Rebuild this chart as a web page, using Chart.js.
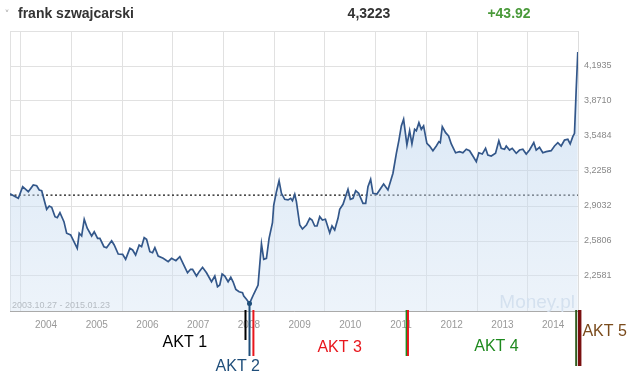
<!DOCTYPE html>
<html>
<head>
<meta charset="utf-8">
<script src="https://cdn.jsdelivr.net/npm/chart.js@4.4.1/dist/chart.umd.min.js"></script>
<style>
  html, body { margin: 0; padding: 0; background: #fff; }
  canvas { display: block; }
</style>
</head>
<body>
<canvas id="myChart" width="630" height="374"></canvas>
<script>
const title = "frank szwajcarski";
const lastPrice = "4,3223";
const changePct = "+43.92";
const dateRange = "2003.10.27 - 2015.01.23";

const years = [2004, 2005, 2006, 2007, 2008, 2009, 2010, 2011, 2012, 2013, 2014];
const yTicks = [1.9355, 2.2581, 2.5806, 2.9032, 3.2258, 3.5484, 3.8710, 4.1935, 4.5161];
const refValue = 3.0033; // kurs na starcie okresu (linia kropkowana)

// daty jako ulamek roku, kurs CHF/PLN
const dates = [
  2003.789, 2003.953, 2004.039, 2004.150, 2004.248, 2004.315, 2004.366, 2004.414, 2004.512, 2004.563,
  2004.611, 2004.676, 2004.721, 2004.774, 2004.853, 2004.906, 2004.985, 2005.115, 2005.154, 2005.202,
  2005.253, 2005.312, 2005.399, 2005.450, 2005.517, 2005.562, 2005.641, 2005.694, 2005.793, 2005.844,
  2005.923, 2006.010, 2006.069, 2006.153, 2006.207, 2006.266, 2006.336, 2006.384, 2006.435, 2006.482,
  2006.547, 2006.600, 2006.646, 2006.711, 2006.809, 2006.908, 2006.975, 2007.060, 2007.138, 2007.217,
  2007.290, 2007.349, 2007.389, 2007.467, 2007.520, 2007.586, 2007.664, 2007.763, 2007.828, 2007.881,
  2007.926, 2007.972, 2008.025, 2008.090, 2008.143, 2008.188, 2008.242, 2008.307, 2008.374, 2008.399,
  2008.452, 2008.512, 2008.596, 2008.681, 2008.748, 2008.793, 2008.846, 2008.898, 2008.965, 2008.990,
  2009.043, 2009.095, 2009.142, 2009.207, 2009.272, 2009.325, 2009.359, 2009.404, 2009.437, 2009.503,
  2009.556, 2009.634, 2009.699, 2009.745, 2009.798, 2009.843, 2009.897, 2009.950, 2010.009, 2010.094,
  2010.139, 2010.192, 2010.257, 2010.291, 2010.356, 2010.423, 2010.454, 2010.501, 2010.553, 2010.606,
  2010.665, 2010.750, 2010.803, 2010.848, 2010.901, 2010.947, 2011.025, 2011.157, 2011.242, 2011.341,
  2011.408, 2011.459, 2011.506, 2011.551, 2011.616, 2011.670, 2011.715, 2011.768, 2011.802, 2011.853,
  2011.900, 2011.945, 2012.010, 2012.064, 2012.129, 2012.196, 2012.247, 2012.274, 2012.314, 2012.379,
  2012.438, 2012.491, 2012.576, 2012.655, 2012.720, 2012.787, 2012.852, 2012.917, 2012.984, 2013.035,
  2013.102, 2013.167, 2013.212, 2013.279, 2013.364, 2013.429, 2013.476, 2013.541, 2013.575, 2013.640,
  2013.693, 2013.772, 2013.837, 2013.902, 2013.969, 2014.034, 2014.118, 2014.166, 2014.231, 2014.296,
  2014.363, 2014.461, 2014.527, 2014.592, 2014.658, 2014.724, 2014.789, 2014.836, 2014.887, 2014.921,
  2014.954, 2014.986
];
const rates = [
  3.015, 2.974, 3.081, 3.035, 3.097, 3.090, 3.051, 3.044, 2.873, 2.903,
  2.891, 2.805, 2.795, 2.841, 2.759, 2.652, 2.636, 2.513, 2.652, 2.627,
  2.781, 2.698, 2.627, 2.666, 2.605, 2.605, 2.528, 2.519, 2.583, 2.544,
  2.461, 2.458, 2.412, 2.513, 2.498, 2.452, 2.544, 2.528, 2.611, 2.596,
  2.482, 2.473, 2.519, 2.442, 2.421, 2.390, 2.421, 2.399, 2.436, 2.359,
  2.288, 2.320, 2.320, 2.258, 2.298, 2.338, 2.288, 2.205, 2.258, 2.159,
  2.175, 2.276, 2.258, 2.205, 2.246, 2.205, 2.135, 2.113, 2.104, 2.074,
  2.043, 2.005, 2.092, 2.175, 2.553, 2.412, 2.421, 2.605, 2.749, 2.912,
  3.035, 3.136, 3.020, 2.965, 2.959, 2.974, 2.952, 3.011, 2.943, 2.728,
  2.691, 2.728, 2.790, 2.774, 2.719, 2.719, 2.805, 2.774, 2.781, 2.657,
  2.719, 2.682, 2.790, 2.873, 2.919, 3.014, 3.057, 2.965, 2.974, 3.044,
  3.020, 2.928, 2.928, 3.081, 3.149, 3.020, 3.014, 3.106, 3.051, 3.205,
  3.389, 3.511, 3.641, 3.702, 3.466, 3.597, 3.475, 3.610, 3.597, 3.671,
  3.610, 3.641, 3.481, 3.456, 3.413, 3.456, 3.496, 3.487, 3.634, 3.579,
  3.548, 3.475, 3.394, 3.404, 3.394, 3.426, 3.413, 3.364, 3.312, 3.394,
  3.382, 3.435, 3.373, 3.364, 3.389, 3.505, 3.435, 3.426, 3.456, 3.419,
  3.435, 3.389, 3.419, 3.426, 3.382, 3.419, 3.487, 3.419, 3.444, 3.394,
  3.404, 3.413, 3.456, 3.487, 3.456, 3.511, 3.518, 3.475, 3.542, 3.573,
  3.972, 4.3223
];

// "akty" - znaczniki pod osia
const aktNames = ["AKT 1", "AKT 2", "AKT 3", "AKT 4", "AKT 5"];
const aktLabelDates = [2007.237, 2008.281, 2010.290, 2013.383, 2015.077];
const markerDates = [2008.433, 2008.512, 2008.589, 2011.605, 2011.637, 2014.954, 2015.023];

const xMin = dates[0];
const xMax = 2014.99;
const minIdx = rates.indexOf(Math.min(...rates));

const FONT = '"Liberation Sans", Arial, sans-serif';

const aktColors = ["#000000", "#1f4e7a", "#e8161c", "#1e8a1e", "#7a4b1c"];
// styl kresek: kolor, grubosc, dlugosc pod osia
const markerStyle = [
  { c: "#000000", w: 2, len: 29 },
  { c: "#1f4e7a", w: 2, len: 45, fromMin: true },
  { c: "#e8161c", w: 2, len: 45 },
  { c: "#1e8a1e", w: 1.5, len: 45 },
  { c: "#e8161c", w: 2, len: 45 },
  { c: "#2f5d1e", w: 2, len: 55 },
  { c: "#7a1010", w: 3.5, len: 55 }
];
const aktLabelStyle = [
  { align: "center", dy: 36 },
  { align: "center", dy: 60 },
  { align: "center", dy: 41 },
  { align: "center", dy: 40 },
  { align: "left", dy: 25 }
];

const decor = {
  id: "decor",
  beforeDatasetsDraw(chart) {
    const { ctx, chartArea } = chart;
    ctx.save();
    ctx.font = "19px " + FONT;
    ctx.fillStyle = "#d3deeb";
    ctx.textAlign = "right";
    ctx.textBaseline = "alphabetic";
    ctx.fillText("Money.pl", chartArea.right - 3, chartArea.bottom - 3);
    ctx.font = "9px " + FONT;
    ctx.fillStyle = "#9a9a9a";
    ctx.textAlign = "left";
    ctx.fillText(dateRange, chartArea.left + 2, chartArea.bottom - 3);
    ctx.restore();
  },
  afterDraw(chart) {
    const { ctx, chartArea } = chart;
    const xs = chart.scales.x;
    const ys = chart.scales.y;
    ctx.save();
    // naglowek
    ctx.textBaseline = "alphabetic";
    ctx.font = "10px DejaVu Sans";
    ctx.fillStyle = "#aaaaaa";
    ctx.textAlign = "left";
    ctx.fillText("\u02C5", 4.5, 18);
    ctx.font = "bold 14px " + FONT;
    ctx.fillStyle = "#333333";
    ctx.fillText(title, 18, 17.5);
    ctx.textAlign = "center";
    ctx.fillText(lastPrice, 369, 17.5);
    ctx.fillStyle = "#4a9a3a";
    ctx.fillText(changePct, 509, 17.5);

    // kreski aktow
    markerDates.forEach((d, i) => {
      const s = markerStyle[i];
      const x = xs.getPixelForValue(d);
      const y0 = s.fromMin ? ys.getPixelForValue(rates[minIdx]) : chartArea.bottom - 1;
      ctx.beginPath();
      ctx.strokeStyle = s.c;
      ctx.lineWidth = s.w;
      ctx.moveTo(x, y0);
      ctx.lineTo(x, chartArea.bottom + s.len);
      ctx.stroke();
    });

    // podpisy aktow
    ctx.font = "16px " + FONT;
    aktNames.forEach((name, i) => {
      const st = aktLabelStyle[i];
      ctx.fillStyle = aktColors[i];
      ctx.textAlign = st.align;
      ctx.fillText(name, xs.getPixelForValue(aktLabelDates[i]), chartArea.bottom + st.dy);
    });
    ctx.restore();
  }
};

const ctx = document.getElementById("myChart").getContext("2d");
const chart = new Chart(ctx, {
  type: "line",
  data: {
    datasets: [
      {
        label: title,
        data: dates.map((d, i) => ({ x: d, y: rates[i] })),
        borderColor: "#33578a",
        borderWidth: 1.7,
        tension: 0,
        fill: "start",
        backgroundColor: (c) => {
          const area = c.chart.chartArea;
          if (!area) return "rgba(200,220,240,0.4)";
          const g = c.chart.ctx.createLinearGradient(0, area.top, 0, area.bottom);
          g.addColorStop(0, "rgba(165,198,232,0.45)");
          g.addColorStop(1, "rgba(215,229,244,0.45)");
          return g;
        },
        pointRadius: (c) => (c.dataIndex === minIdx ? 2.5 : 0),
        pointBackgroundColor: "#1f4e7a",
        pointBorderWidth: 0
      },
      {
        label: "start",
        data: [{ x: xMin, y: refValue }, { x: xMax, y: refValue }],
        borderColor: "#111111",
        borderWidth: 1.3,
        borderDash: [2, 2.5],
        pointRadius: 0,
        fill: false
      }
    ]
  },
  options: {
    responsive: false,
    animation: false,
    devicePixelRatio: 1,
    layout: { padding: { top: 31, left: 10, right: 0, bottom: 0 } },
    plugins: { legend: { display: false }, tooltip: { enabled: false } },
    scales: {
      x: {
        type: "linear",
        position: "bottom",
        weight: 0,
        min: xMin,
        max: xMax,
        grid: { color: "#e1e1e1", drawTicks: false },
        border: { display: true, color: "#aaaaaa" },
        ticks: { display: false },
        afterBuildTicks: (s) => { s.ticks = [xMin, ...years].map((v) => ({ value: v })); },
        afterFit: (s) => { s.height = 0; }
      },
      x2: {
        type: "linear",
        position: "bottom",
        weight: 1,
        min: xMin,
        max: xMax,
        grid: { display: false, drawTicks: false },
        border: { display: false },
        ticks: {
          autoSkip: false,
          maxRotation: 0,
          padding: 8,
          color: "#999999",
          font: { family: FONT, size: 10 },
          callback: (v, i) => String(years[i])
        },
        afterBuildTicks: (s) => { s.ticks = years.map((y) => ({ value: y + 0.5 })); },
        afterFit: (s) => { s.height = 63; }
      },
      y: {
        position: "right",
        min: yTicks[0],
        max: yTicks[yTicks.length - 1],
        grid: { color: "#e1e1e1", drawTicks: false },
        border: { display: true, color: "#dddddd" },
        ticks: {
          padding: 6,
          color: "#888888",
          font: { family: FONT, size: 9 },
          callback: (v, i) => (i === 0 || i === yTicks.length - 1) ? "" : v.toFixed(4).replace(".", ",")
        },
        afterBuildTicks: (s) => { s.ticks = yTicks.map((v) => ({ value: v })); },
        afterFit: (s) => { s.width = 52; }
      }
    }
  },
  plugins: [decor]
});
</script>
</body>
</html>
